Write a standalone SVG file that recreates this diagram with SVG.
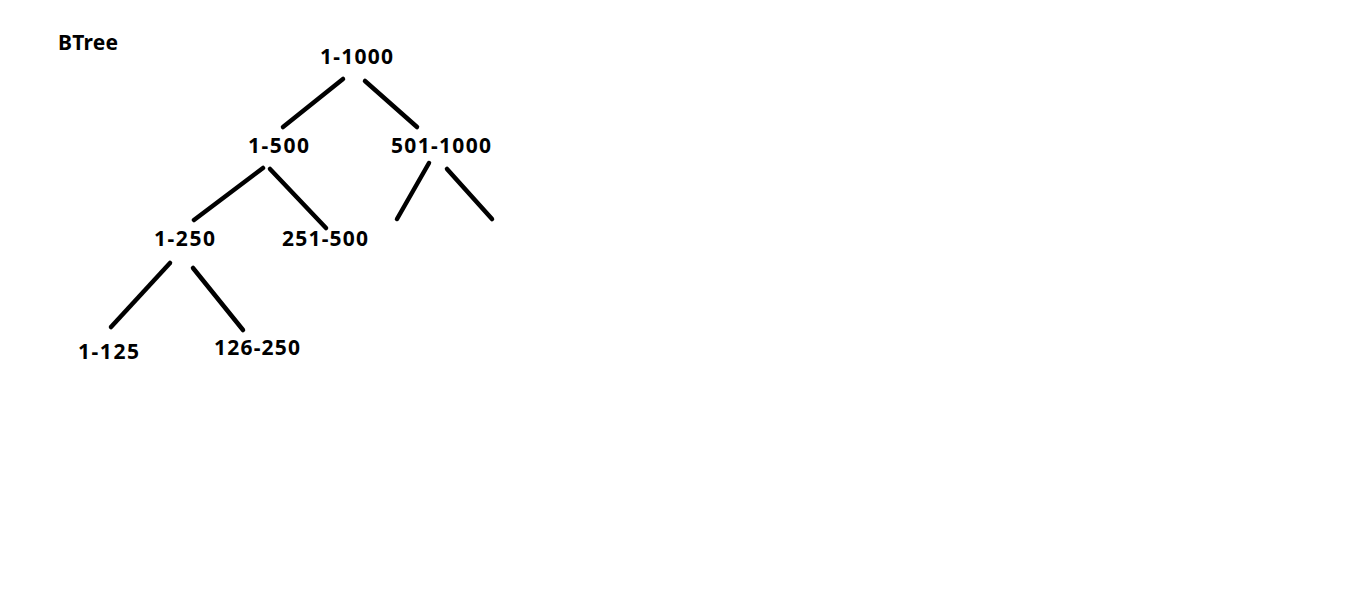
<svg xmlns="http://www.w3.org/2000/svg" width="1358" height="600" viewBox="0 0 1358 600">
<style>
text{font-family:"Noto Sans","Open Sans","Liberation Sans",sans-serif;font-weight:bold;font-size:21px;fill:#000;text-anchor:middle}
.e{stroke:#000;stroke-width:4.5;stroke-linecap:round;fill:none}
</style>
<rect width="1358" height="600" fill="#fff"/>
<g id="title"><text x="88" y="50" textLength="60" lengthAdjust="spacing">BTree</text></g>
<g id="connectors">
<line class="e" x1="343" y1="79" x2="283" y2="127"/>
<line class="e" x1="365" y1="81" x2="417" y2="127"/>
<line class="e" x1="263" y1="168" x2="194" y2="220"/>
<line class="e" x1="270" y1="169" x2="326" y2="228"/>
<line class="e" x1="429" y1="163" x2="397" y2="219"/>
<line class="e" x1="447" y1="169" x2="492" y2="219"/>
<line class="e" x1="170" y1="263" x2="111" y2="327"/>
<line class="e" x1="193" y1="268" x2="243" y2="330"/>
</g>
<g id="n1"><text x="356.5" y="64" textLength="73" lengthAdjust="spacing">1-1000</text></g>
<g id="n2"><text x="278.5" y="153" textLength="61" lengthAdjust="spacing">1-500</text></g>
<g id="n3"><text x="441" y="153" textLength="100" lengthAdjust="spacing">501-1000</text></g>
<g id="n4"><text x="184.5" y="246" textLength="61" lengthAdjust="spacing">1-250</text></g>
<g id="n5"><text x="325" y="246" textLength="86" lengthAdjust="spacing">251-500</text></g>
<g id="n6"><text x="108.5" y="359" textLength="61" lengthAdjust="spacing">1-125</text></g>
<g id="n7"><text x="257" y="355" textLength="86" lengthAdjust="spacing">126-250</text></g>
</svg>
